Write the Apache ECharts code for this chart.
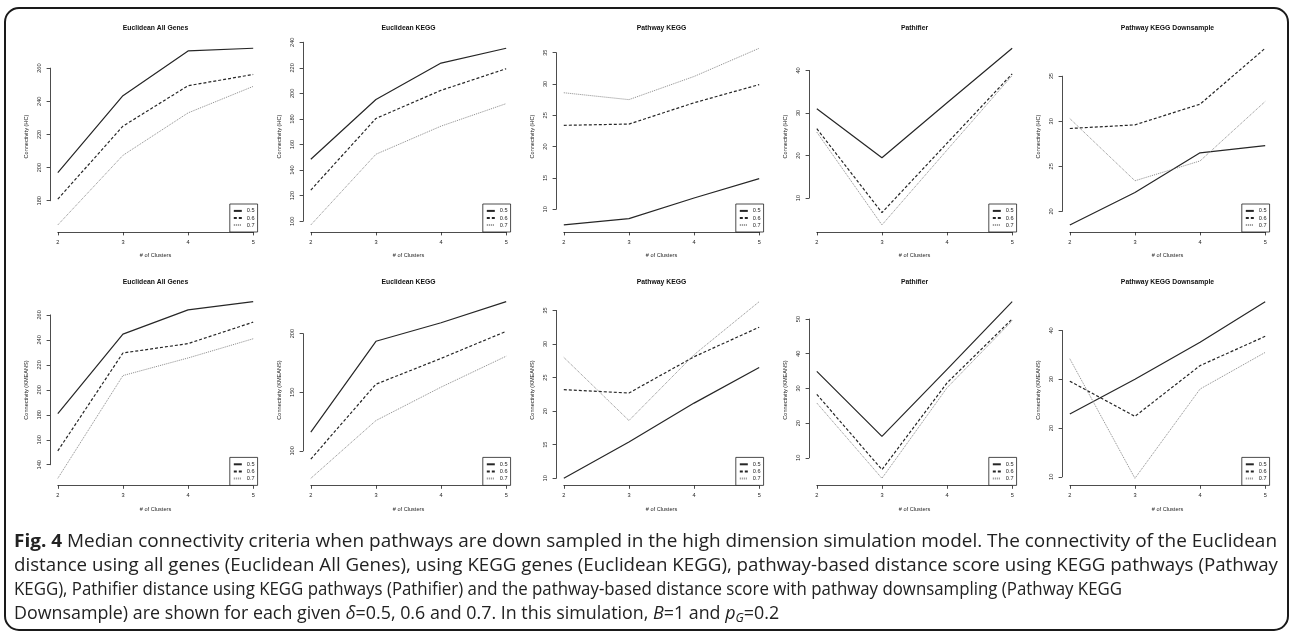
<!DOCTYPE html>
<html>
<head>
<meta charset="utf-8">
<title>Fig. 4</title>
<script src="https://cdn.jsdelivr.net/npm/echarts@6/dist/echarts.min.js"></script>
<style>
  html, body { margin: 0; padding: 0; background: #fff; }
  #chart { width: 1292px; height: 637px; }
</style>
</head>
<body>
<div id="chart"></div>
<script>
const clusters = [2, 3, 4, 5]
const deltas = ['0.5', '0.6', '0.7']
const methods = ['HC', 'KMEANS']
const panelTitles = ['Euclidean All Genes', 'Euclidean KEGG', 'Pathway KEGG', 'Pathifier', 'Pathway KEGG Downsample']

// median connectivity, one row per delta (0.5, 0.6, 0.7), one column per cluster count
const hcEuclideanAll = [
  [197, 243.4, 270.4, 272],
  [181, 225, 249.4, 256.2],
  [165.4, 207.4, 233, 249],
]
const hcEuclideanKegg = [
  [148.5, 195.2, 223.7, 235.3],
  [124.4, 180.4, 202.4, 219.3],
  [97.1, 152.4, 174.4, 192.0],
]
const hcPathwayKegg = [
  [7.5, 8.5, 11.8, 14.9],
  [23.4, 23.6, 27.0, 29.9],
  [28.6, 27.5, 31.2, 35.7],
]
const hcPathifier = [
  [31.0, 19.5, 32.4, 45.2],
  [26.3, 6.6, 22.9, 39.2],
  [25.5, 3.7, 21.3, 38.8],
]
const hcDownsample = [
  [18.5, 22.1, 26.5, 27.3],
  [29.2, 29.6, 31.9, 38.1],
  [30.3, 23.4, 25.6, 32.2],
]
const kmEuclideanAll = [
  [180.9, 244.6, 264, 270.6],
  [151.1, 229.5, 237, 254.2],
  [129.1, 211.4, 225.5, 240.9],
]
const kmEuclideanKegg = [
  [116.1, 193.5, 209.3, 227.3],
  [93, 156.9, 178.9, 202],
  [76.6, 125.9, 154.4, 180.8],
]
const kmPathwayKegg = [
  [10.0, 15.4, 21.2, 26.5],
  [23.2, 22.7, 28.1, 32.5],
  [28.0, 18.6, 28.4, 36.3],
]
const kmPathifier = [
  [34.9, 16.2, 35.5, 55.0],
  [28.3, 6.6, 31.6, 50.0],
  [25.8, 4.1, 30.2, 49.5],
]
const kmDownsample = [
  [22.9, 30.0, 37.6, 45.9],
  [29.6, 22.4, 32.8, 38.8],
  [34.2, 9.7, 28.0, 35.5],
]

// y tick labels per panel
const hcTicks = [
  [180, 200, 220, 240, 260],
  [100, 120, 140, 160, 180, 200, 220, 240],
  [10, 15, 20, 25, 30, 35],
  [10, 20, 30, 40],
  [20, 25, 30, 35],
]
const kmTicks = [
  [140, 160, 180, 200, 220, 240, 260],
  [100, 150, 200],
  [10, 15, 20, 25, 30, 35],
  [10, 20, 30, 40, 50],
  [10, 20, 30, 40],
]

// caption as wrapped in the figure, with the x where each line ends
const captionLines = [
  ['{b|Fig. 4} Median connectivity criteria when pathways are down sampled in the high dimension simulation model. The connectivity of the Euclidean', 1277],
  ['distance using all genes (Euclidean All Genes), using KEGG genes (Euclidean KEGG), pathway-based distance score using KEGG pathways (Pathway', 1278],
  ['KEGG), Pathifier distance using KEGG pathways (Pathifier) and the pathway-based distance score with pathway downsampling (Pathway KEGG', 1122],
  ['Downsample) are shown for each given {i|δ}=0.5, 0.6 and 0.7. In this simulation, {i|B}=1 and {i|p}{sub|G}=0.2', 786],
]

const W = 1292, H = 637
const plotW = 211, plotH = 190.8
const xMin = 1.88, xMax = 5.12
const ink = '#1f1f1f'
const rFont = 'Liberation Sans'

const panels = [hcEuclideanAll, hcEuclideanKegg, hcPathwayKegg, hcPathifier, hcDownsample,
  kmEuclideanAll, kmEuclideanKegg, kmPathwayKegg, kmPathifier, kmDownsample]
const ticks = hcTicks.concat(kmTicks)

const lineStyles = [
  { color: '#262626', width: 1.2, type: 'solid' },
  { color: '#262626', width: 1.2, type: [3, 2] },
  { color: '#8a8a8a', width: 1, type: [1, 1] },
]
const axisLine = { show: true, onZero: false, lineStyle: { color: ink, width: 0.8 } }
const axisTick = { show: true, length: 3.4, lineStyle: { color: ink, width: 0.8 } }
const labelStyle = { fontSize: 5.6, color: ink, fontFamily: rFont }
const off = { show: false }

const grid = [], xAxis = [], yAxis = [], series = [], legend = [], graphic = []

panels.forEach((vals, p) => {
  const row = Math.floor(p / 5), col = p % 5
  const left = 50 + 253 * col
  const top = 41.2 + 253.4 * row
  const all = vals.flat()
  const lo = Math.min(...all), hi = Math.max(...all)
  const yMin = lo - (hi - lo) * 0.04, yMax = hi + (hi - lo) * 0.04
  const px = v => left + (v - xMin) / (xMax - xMin) * plotW
  const py = v => top + (yMax - v) / (yMax - yMin) * plotH
  const t = ticks[p]
  const g = grid.length

  // plot region, holds the lines and the axis titles
  grid.push({ left, top, width: plotW, height: plotH })
  xAxis.push({
    gridIndex: g, type: 'value', min: xMin, max: xMax,
    axisLine: off, axisTick: off, axisLabel: off, splitLine: off,
    name: '# of Clusters', nameLocation: 'middle', nameGap: 20.7, nameTextStyle: labelStyle,
  })
  yAxis.push({
    gridIndex: g, type: 'value', min: yMin, max: yMax,
    axisLine: off, axisTick: off, axisLabel: off, splitLine: off,
    name: 'Connectivity (' + methods[row] + ')', nameLocation: 'middle', nameGap: 20.2,
    nameRotate: 90, nameTextStyle: labelStyle,
  })

  // R style x axis: line only from first to last tick
  grid.push({ left: px(2), top: top + plotH - 10, width: px(5) - px(2), height: 10 })
  xAxis.push({
    gridIndex: g + 1, type: 'value', min: 2, max: 5, interval: 1, position: 'bottom',
    axisLine, axisTick, axisLabel: { ...labelStyle, margin: 7.2 }, splitLine: off,
  })
  yAxis.push({ gridIndex: g + 1, type: 'value', show: false, min: 0, max: 1 })

  // R style y axis
  grid.push({ left, top: py(t[t.length - 1]), width: 10, height: py(t[0]) - py(t[t.length - 1]) })
  xAxis.push({ gridIndex: g + 2, type: 'value', show: false, min: 0, max: 1 })
  yAxis.push({
    gridIndex: g + 2, type: 'value', min: t[0], max: t[t.length - 1], interval: t[1] - t[0],
    position: 'left', axisLine, axisTick,
    axisLabel: { ...labelStyle, rotate: 90, margin: 7.2 }, splitLine: off,
  })

  vals.forEach((v, k) => {
    series.push({
      type: 'line', name: deltas[k], xAxisIndex: g, yAxisIndex: g,
      data: clusters.map((c, i) => [c, v[i]]),
      symbol: 'none', lineStyle: lineStyles[k], silent: true,
    })
  })

  legend.push({
    data: deltas, orient: 'vertical', selectedMode: false,
    right: W - (px(5) + 4.4), bottom: H - (top + plotH),
    itemWidth: 8, itemHeight: 5.6, itemGap: 1.1,
    padding: [3.9, 3, 3.9, 3],
    borderColor: ink, borderWidth: 0.8, backgroundColor: '#fff',
    itemStyle: { opacity: 0 },
    textStyle: { fontSize: 5.6, lineHeight: 5.6, color: ink, fontFamily: rFont },
  })

  graphic.push({
    type: 'text', x: left + plotW / 2, y: top - 12.9, silent: true,
    style: {
      text: panelTitles[col], fontSize: 6.8, fontWeight: 'bold', fontFamily: rFont, fill: '#111',
      align: 'center', verticalAlign: 'middle', textAlign: 'center', textVerticalAlign: 'middle',
    },
  })
})

// frame around figure and caption
graphic.push({
  type: 'rect', silent: true,
  shape: { x: 5, y: 8, width: 1283, height: 622, r: 14 },
  style: { fill: 'none', stroke: '#1a1a1a', lineWidth: 2 },
})

// caption
const capFont = 'Open Sans'
const capSize = 17.5
const capLeft = 14
const capY = [541.7, 566, 590.2, 614.3]
const capColor = '#222'
const ctx = document.createElement('canvas').getContext('2d')
const measure = (s, weight) => {
  ctx.font = (weight || 'normal') + ' ' + capSize + 'px "' + capFont + '"'
  return ctx.measureText(s).width
}
// width of a rich line, rich fragments measured with their own weight
const lineWidth = s => s.split(/(\{\w+\|[^}]*\})/).reduce((w, part) => {
  const m = part.match(/^\{(\w+)\|([^}]*)\}$/)
  if (!m) return w + measure(part)
  return w + measure(m[2], m[1] === 'b' ? 'bold' : 'normal')
}, 0)

captionLines.forEach(([line, right], i) => {
  const sx = (right - capLeft) / lineWidth(line)
  graphic.push({
    type: 'text', x: capLeft, y: capY[i], scaleX: sx, silent: true,
    style: {
      text: line, fontSize: capSize, fontFamily: capFont, fill: capColor,
      align: 'left', verticalAlign: 'middle', textAlign: 'left', textVerticalAlign: 'middle',
      rich: {
        b: { fontSize: capSize, fontFamily: capFont, fontWeight: 'bold', fill: capColor },
        i: { fontSize: capSize, fontFamily: capFont, fontStyle: 'italic', fill: capColor },
        sub: { fontSize: 12, fontFamily: capFont, fontStyle: 'italic', fill: capColor, verticalAlign: 'bottom', padding: [9, 0, 0, 0] },
      },
    },
  })
})

const chart = echarts.init(document.getElementById('chart'))
chart.setOption({
  animation: false,
  backgroundColor: '#fff',
  textStyle: { fontFamily: rFont },
  grid, xAxis, yAxis, series, legend, graphic,
})
</script>
</body>
</html>
